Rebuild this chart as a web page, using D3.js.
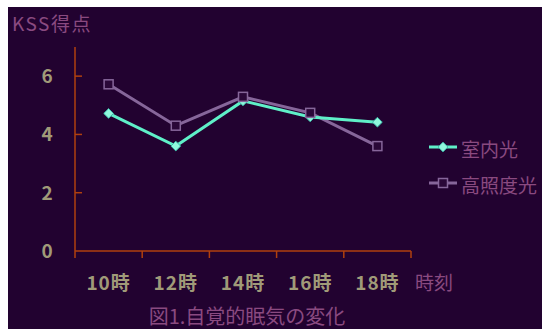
<!DOCTYPE html>
<html lang="ja">
<head>
<meta charset="UTF-8">
<title>KSS</title>
<style>
  * { margin: 0; padding: 0; }
  body { background: #fff; }
</style>
</head>
<body>
<svg></svg>
<script src="https://cdn.jsdelivr.net/npm/d3@7/dist/d3.min.js"></script>
<script>
  // データ
  const hours = ['10時', '12時', '14時', '16時', '18時']
  const indoor = [4.72, 3.6, 5.15, 4.6, 4.42]     // 室内光
  const bright = [5.72, 4.3, 5.29, 4.74, 3.6]     // 高照度光
  const yTicks = [0, 2, 4, 6]

  const W = 542, H = 331
  const svg = d3.select('svg').attr('width', W).attr('height', H)
  const jp = '"Noto Sans CJK JP", sans-serif'
  const textCol = '#8a4a80'
  const tickCol = '#a09a78'
  const axisCol = '#b0400e'

  // 背景
  svg.append('rect').attr('x', 8).attr('y', 7).attr('width', W - 8).attr('height', 322).attr('fill', '#220230')

  const x = d3.scaleBand().domain(hours).range([75, 411]).padding(0)
  const y = d3.scaleLinear().domain([0, 7]).range([251, 47])

  // y軸
  svg.append('line').attr('x1', 75).attr('x2', 75).attr('y1', y(7)).attr('y2', y(0))
    .attr('stroke', axisCol).attr('stroke-width', 1.5)
  svg.selectAll('.ytick').data(yTicks.filter(d => d > 0)).enter().append('line')
    .attr('x1', 75).attr('x2', 82).attr('y1', d => y(d)).attr('y2', d => y(d))
    .attr('stroke', axisCol).attr('stroke-width', 1.5)
  svg.selectAll('.ylab').data(yTicks).enter().append('text')
    .attr('x', 47).attr('y', d => y(d) + 7)
    .attr('text-anchor', 'middle').attr('font-family', jp).attr('font-weight', 'bold')
    .attr('font-size', 19).attr('fill', tickCol).text(d => d)

  // x軸
  svg.append('line').attr('x1', 75).attr('x2', 411).attr('y1', 251).attr('y2', 251)
    .attr('stroke', axisCol).attr('stroke-width', 1.5)
  const xt = hours.map(h => x(h)).concat([x.range()[1]])
  svg.selectAll('.xtick').data(xt).enter().append('line')
    .attr('x1', d => d).attr('x2', d => d).attr('y1', 251).attr('y2', 258)
    .attr('stroke', axisCol).attr('stroke-width', 1.5)
  svg.selectAll('.xlab').data(hours).enter().append('text')
    .attr('x', d => x(d) + x.bandwidth() / 2).attr('y', 290)
    .attr('text-anchor', 'middle').attr('font-family', jp).attr('font-weight', 'bold')
    .attr('font-size', 19).attr('letter-spacing', 1).attr('fill', tickCol).text(d => d)

  svg.append('text').attr('x', 415).attr('y', 290).attr('font-family', jp)
    .attr('font-size', 19).attr('fill', textCol).text('時刻')
  svg.append('text').attr('x', 12).attr('y', 31).attr('font-family', jp)
    .attr('font-size', 19).attr('letter-spacing', 1.5).attr('fill', textCol).text('KSS得点')
  svg.append('text').attr('x', 247).attr('y', 324).attr('text-anchor', 'middle').attr('font-family', jp)
    .attr('font-size', 20).attr('fill', textCol).text('図1.自覚的眠気の変化')

  const cx = d => x(d) + x.bandwidth() / 2
  const line = d3.line().x((d, i) => cx(hours[i])).y(d => y(d))

  const cyan = '#5ff0c8'
  const grey = '#86669a'

  // 高照度光
  svg.append('path').datum(bright).attr('d', line).attr('fill', 'none')
    .attr('stroke', grey).attr('stroke-width', 3)
  // 室内光
  svg.append('path').datum(indoor).attr('d', line).attr('fill', 'none')
    .attr('stroke', cyan).attr('stroke-width', 3)

  const diamond = d3.symbol().type(d3.symbolDiamond2).size(60)
  svg.selectAll('.dm').data(indoor).enter().append('path')
    .attr('d', diamond).attr('transform', (d, i) => `translate(${cx(hours[i])},${y(d)})`)
    .attr('fill', '#8ff8dc').attr('stroke', '#3ab8a8').attr('stroke-width', 1)
  svg.selectAll('.sq').data(bright).enter().append('rect')
    .attr('x', (d, i) => cx(hours[i]) - 4.5).attr('y', d => y(d) - 4.5)
    .attr('width', 9).attr('height', 9)
    .attr('fill', '#2a0838').attr('stroke', grey).attr('stroke-width', 1.5)

  // 凡例
  const leg = [
    { name: '室内光', color: cyan, y: 147 },
    { name: '高照度光', color: grey, y: 183 }
  ]
  leg.forEach((l, k) => {
    svg.append('line').attr('x1', 429).attr('x2', 457).attr('y1', l.y).attr('y2', l.y)
      .attr('stroke', l.color).attr('stroke-width', 3)
    if (k === 0) {
      svg.append('path').attr('d', diamond).attr('transform', `translate(443,${l.y})`)
        .attr('fill', '#8ff8dc').attr('stroke', '#3ab8a8')
    } else {
      svg.append('rect').attr('x', 438.5).attr('y', l.y - 4.5).attr('width', 9).attr('height', 9)
        .attr('fill', '#2a0838').attr('stroke', grey).attr('stroke-width', 1.5)
    }
    svg.append('text').attr('x', 461).attr('y', l.y + 10).attr('font-family', jp)
      .attr('font-size', 19).attr('fill', textCol).text(l.name)
  })
</script>
</body>
</html>
